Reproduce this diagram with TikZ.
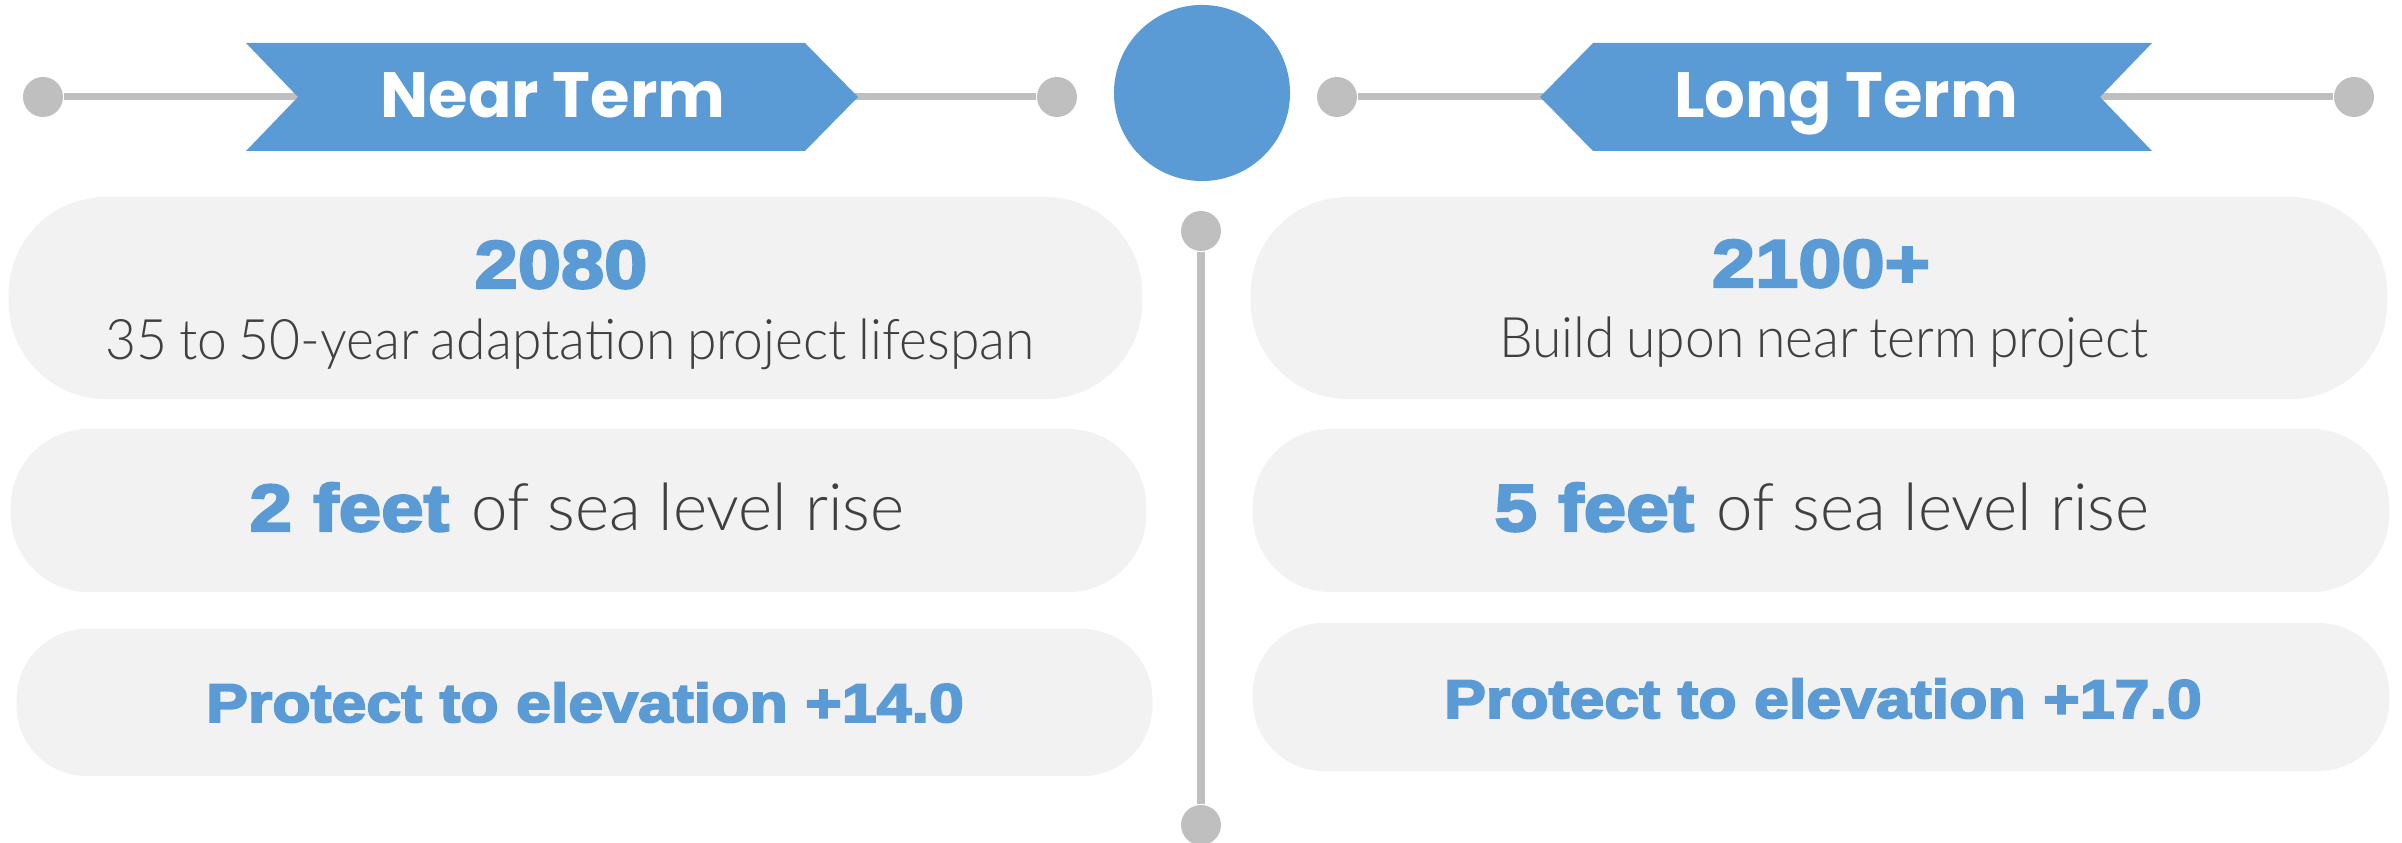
\documentclass[tikz,border=0pt]{standalone}
\usepackage{fontspec}
\usepackage{tikz}
\setmainfont{Lato}[UprightFont={* Light}]
\newfontfamily\notefont{Lato}[UprightFont={* Light}, FakeStretch=0.955, WordSpace=0.8]
\newfontfamily\bannerfont{Poppins}
\newfontfamily\heavyfont{Liberation Sans}[BoldFeatures={FakeBold=3.5,FakeStretch=1.15}]

\definecolor{barblue}{HTML}{5B9BD5}
\definecolor{rulegray}{HTML}{BFBFBF}
\definecolor{pillgray}{HTML}{F2F2F2}
\definecolor{textgray}{HTML}{404040}

\begin{document}
\begin{tikzpicture}[x=0.01cm, y=-0.01cm,
    knob/.style={circle, fill=rulegray, inner sep=0pt, minimum size=0.4cm},
    hub/.style={circle, fill=barblue, inner sep=0pt, minimum size=1.76cm},
    pill/.style={fill=pillgray, inner sep=0pt},
    rule/.style={rulegray, line width=0.07cm},
    bannertext/.style={text=white, font=\bannerfont\bfseries\fontsize{18.2pt}{20pt}\selectfont},
    bigblue/.style={text=barblue, font=\heavyfont\bfseries\fontsize{19.2pt}{22pt}\selectfont},
    smallblue/.style={text=barblue, font=\heavyfont\bfseries\fontsize{15.5pt}{18pt}\selectfont},
    note/.style={text=textgray, font=\notefont\fontsize{15.9pt}{18pt}\selectfont},
    rise/.style={text=textgray, font=\fontsize{18.6pt}{21pt}\selectfont}]
  \useasboundingbox (0,0) rectangle (2402,843);

  % near term header
  \node[knob] (nearleft) at (43,97) {};
  \node[knob] (nearright) at (1057,97) {};
  \draw[rule] (nearleft) -- (nearright);
  \fill[barblue] (246,43) -- (805,43) -- (858,97) -- (805,151) -- (246,151) -- (298,97) -- cycle;
  \node[bannertext, anchor=base] (nearterm) at (553,118) {Near Term};

  % long term header
  \node[knob] (longleft) at (1337,97) {};
  \node[knob] (longright) at (2354,97) {};
  \draw[rule] (longleft) -- (longright);
  \fill[barblue] (1593,43) -- (2152,43) -- (2100,97) -- (2152,151) -- (1593,151) -- (1540,97) -- cycle;
  \node[bannertext, anchor=base] (longterm) at (1846,118) {Long Term};

  % centre
  \node[hub] (hub) at (1202,93) {};
  \node[knob] (spinetop) at (1201,231) {};
  \node[knob] (spinebottom) at (1201,825) {};
  \draw[rulegray, line width=0.08cm] (spinetop) -- (spinebottom);

  % near term column
  \node[pill, minimum width=11.33cm, minimum height=2.02cm, rounded corners=0.97cm] (nearyear) at (575.5,298) {};
  \node[bigblue, anchor=base] (nearyeartext) at (561,288) {2080};
  \node[note, anchor=base] (nearlife) at (570,360) {35 to 50-year adaptation project lifespan};
  \node[pill, minimum width=11.35cm, minimum height=1.63cm, rounded corners=0.78cm] (nearrise) at (578.5,510.5) {};
  \node[rise, anchor=base] (nearrisetext) at (577,531) {{\heavyfont\bfseries\fontsize{18.9pt}{22pt}\selectfont\color{barblue}2 feet}\hspace{0.22cm}of sea level rise};
  \node[pill, minimum width=11.35cm, minimum height=1.47cm, rounded corners=0.70cm] (nearlevel) at (584.5,702.5) {};
  \node[smallblue, anchor=base] (nearleveltext) at (585,722) {Protect to elevation +14.0};

  % long term column
  \node[pill, minimum width=11.36cm, minimum height=2.02cm, rounded corners=0.97cm] (longyear) at (1819,298) {};
  \node[bigblue, anchor=base] (longyeartext) at (1821,287) {2100+};
  \node[note, anchor=base] (longlife) at (1824,358) {Build upon near term project};
  \node[pill, minimum width=11.36cm, minimum height=1.63cm, rounded corners=0.78cm] (longrise) at (1821,510.5) {};
  \node[rise, anchor=base] (longrisetext) at (1822,531) {{\heavyfont\bfseries\fontsize{18.9pt}{22pt}\selectfont\color{barblue}5 feet}\hspace{0.22cm}of sea level rise};
  \node[pill, minimum width=11.36cm, minimum height=1.48cm, rounded corners=0.71cm] (longlevel) at (1821,697) {};
  \node[smallblue, anchor=base] (longleveltext) at (1823,718) {Protect to elevation +17.0};
\end{tikzpicture}
\end{document}
